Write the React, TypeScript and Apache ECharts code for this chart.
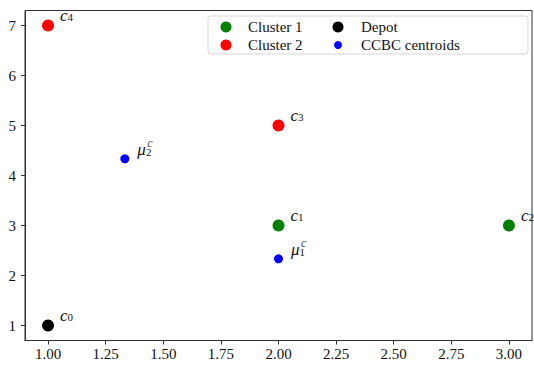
import React, { useEffect, useRef } from "react";
import * as echarts from "echarts";

const cluster1X = [2, 3];
const cluster1Y = [3, 3];
const cluster1Ids = ["1", "2"];

const cluster2X = [2, 1];
const cluster2Y = [5, 7];
const cluster2Ids = ["3", "4"];

const depotX = [1];
const depotY = [1];
const depotIds = ["0"];

const centroidX = [2, 1.3333];
const centroidY = [2.3333, 4.3333];
const centroidIds = ["1", "2"];

const xTicks = [1, 1.25, 1.5, 1.75, 2, 2.25, 2.5, 2.75, 3];
const yTicks = [1, 2, 3, 4, 5, 6, 7];

const FONT = "Liberation Serif";

const toData = (xs: number[], ys: number[], ids: string[]) =>
  xs.map((x, i) => ({ value: [x, ys[i]], name: ids[i] }));

const cRich = {
  c: { fontFamily: FONT, fontStyle: "italic", fontSize: 17, lineHeight: 14, color: "#111" },
  s: { fontFamily: FONT, fontSize: 11, lineHeight: 8, verticalAlign: "bottom", color: "#111" },
};

const muRich = {
  m: { fontFamily: FONT, fontStyle: "italic", fontSize: 17, lineHeight: 16, color: "#111" },
  s: { fontFamily: FONT, fontSize: 11, lineHeight: 6, verticalAlign: "bottom", color: "#111" },
};

const supRich = {
  sup: { fontFamily: FONT, fontStyle: "italic", fontSize: 12, lineHeight: 12, color: "#111" },
};

const cLabel = {
  show: true,
  position: "right",
  distance: 6,
  offset: [0, -10.5],
  formatter: (p: any) => `{c|c}{s|${p.name}}`,
  rich: cRich,
};

const muLabel = {
  show: true,
  position: "right",
  distance: 8,
  offset: [0, -9],
  formatter: (p: any) => `{m|μ}{s|${p.name}}`,
  rich: muRich,
};

const supLabel = {
  show: true,
  position: "right",
  distance: 8,
  offset: [10, -15.5],
  formatter: () => `{sup|c}`,
  rich: supRich,
};

const axisCommon = {
  type: "value" as const,
  axisLine: { show: true, onZero: false, lineStyle: { color: "#333", width: 1 } },
  axisTick: { show: true, length: 4, lineStyle: { color: "#333" } },
  splitLine: { show: false },
};

export default function App() {
  const ref = useRef<HTMLDivElement>(null);
  useEffect(() => {
    if (!ref.current) return;
    const chart = echarts.init(ref.current, null, { renderer: "svg" });
    chart.setOption({
      animation: false,
      backgroundColor: "#fff",
      textStyle: { fontFamily: FONT },
      grid: {
        left: 25,
        right: 2,
        top: 10.5,
        bottom: 25.5,
        show: true,
        borderColor: "#333",
        borderWidth: 1,
      },
      xAxis: {
        ...axisCommon,
        min: 0.9,
        max: 3.1,
        axisTick: { ...axisCommon.axisTick, customValues: xTicks },
        axisLabel: {
          customValues: xTicks,
          formatter: (v: number) => v.toFixed(2),
          fontFamily: FONT,
          fontSize: 15,
          color: "#111",
          margin: 6,
        },
      },
      yAxis: {
        ...axisCommon,
        min: 0.7,
        max: 7.3,
        axisTick: { ...axisCommon.axisTick, customValues: yTicks },
        axisLabel: {
          customValues: yTicks,
          formatter: (v: number) => String(v),
          fontFamily: FONT,
          fontSize: 15,
          color: "#111",
          margin: 9,
        },
      },
      legend: [
        {
          data: ["Cluster 1", "Cluster 2"],
          orient: "vertical",
          left: 220.5,
          top: 19,
          padding: 0,
          itemWidth: 11,
          itemHeight: 11,
          itemGap: 2,
          icon: "circle",
          textStyle: { fontFamily: FONT, fontSize: 15, lineHeight: 16, color: "#111", padding: [0, 0, 0, 11.5] },
        },
        {
          data: ["Depot"],
          orient: "vertical",
          left: 332.5,
          top: 19,
          padding: 0,
          itemWidth: 11,
          itemHeight: 11,
          icon: "circle",
          textStyle: { fontFamily: FONT, fontSize: 15, lineHeight: 16, color: "#111", padding: [0, 0, 0, 12.5] },
        },
        {
          data: ["CCBC centroids"],
          orient: "vertical",
          left: 334,
          top: 37,
          padding: 0,
          itemWidth: 8,
          itemHeight: 8,
          icon: "circle",
          textStyle: { fontFamily: FONT, fontSize: 15, lineHeight: 16, color: "#111", padding: [0, 0, 0, 14] },
        },
      ],
      graphic: [
        {
          type: "rect",
          z: 3,
          shape: { x: 208, y: 16, width: 320, height: 38, r: 3 },
          style: { fill: "rgba(255,255,255,0.8)", stroke: "#d6d6d6", lineWidth: 1 },
        },
      ],
      series: [
        {
          name: "Cluster 1",
          type: "scatter",
          symbol: "circle",
          symbolSize: 12,
          itemStyle: { color: "#008000", opacity: 1 },
          data: toData(cluster1X, cluster1Y, cluster1Ids),
          label: cLabel,
        },
        {
          name: "Cluster 2",
          type: "scatter",
          symbol: "circle",
          symbolSize: 12,
          itemStyle: { color: "#ff0000", opacity: 1 },
          data: toData(cluster2X, cluster2Y, cluster2Ids),
          label: cLabel,
        },
        {
          name: "Depot",
          type: "scatter",
          symbol: "circle",
          symbolSize: 12,
          itemStyle: { color: "#000000", opacity: 1 },
          data: toData(depotX, depotY, depotIds),
          label: cLabel,
        },
        {
          name: "CCBC centroids",
          type: "scatter",
          symbol: "circle",
          symbolSize: 9,
          itemStyle: { color: "#0000ff", opacity: 1 },
          data: toData(centroidX, centroidY, centroidIds),
          label: muLabel,
        },
        {
          name: "centroid superscripts",
          type: "scatter",
          symbol: "circle",
          symbolSize: 9,
          silent: true,
          itemStyle: { color: "rgba(0,0,0,0)" },
          data: toData(centroidX, centroidY, centroidIds),
          label: supLabel,
        },
      ],
    });
    return () => chart.dispose();
  }, []);
  return <div ref={ref} style={{ width: 534, height: 366, position: "absolute", left: 0, top: 0 }} />;
}
